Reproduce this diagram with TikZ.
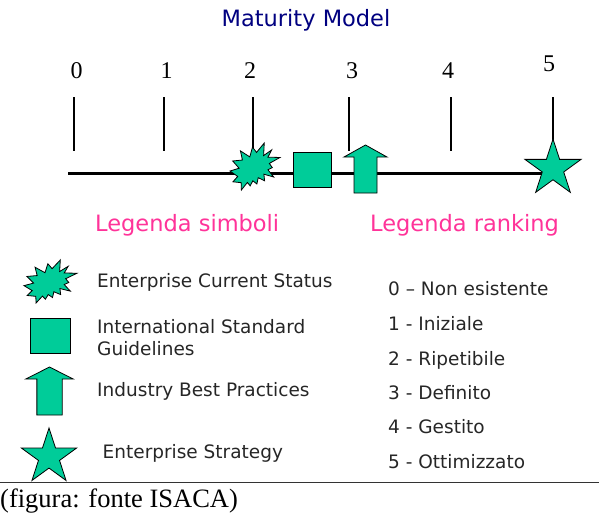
\documentclass[tikz,border=0pt]{standalone}
\usepackage{fontspec}
\setmainfont{Liberation Serif}
\newfontfamily\verd{DejaVu Sans}
\usetikzlibrary{shapes.geometric}
\definecolor{symgreen}{RGB}{0,204,153}
\definecolor{titleblue}{RGB}{0,0,128}
\definecolor{legpink}{RGB}{255,51,153}

\begin{document}
\begin{tikzpicture}[x=1pt,y=-1pt,
  sym/.style={draw=black, line width=0.8pt, fill=symgreen, line join=miter},
  heading/.style={font=\verd\fontsize{22.5}{27}\selectfont, inner sep=0pt, anchor=base},
  body/.style={font=\verd\fontsize{18.5}{22}\selectfont, inner sep=0pt, anchor=base west, text=black!85},
  digit/.style={font=\fontsize{24}{28}\selectfont, inner sep=0pt, anchor=base},
  tickline/.style={line width=2pt},
  % explosion outline on a 216 x 216 grid, centred on the pic origin
  burst/.pic={
    \draw[sym, shift={(-108,-108)}]
      (114.62,43.42) -- (147.90,0) -- (145.25,57.77) -- (180.07,31.72)
      -- (163.80,65.32) -- (216,66.45) -- (169.85,94.02) -- (182.70,112.90)
      -- (163.80,123.10) -- (188.77,156.32) -- (146.40,143.50) -- (149.42,173.70)
      -- (121.80,159.35) -- (116.12,188.42) -- (98.72,173.70) -- (87.00,197.12)
      -- (75.27,181.25) -- (49.17,216) -- (48.05,182.40) -- (12.85,178.25)
      -- (33.30,153.70) -- (0,128.77) -- (39.35,115.92) -- (11.72,82.70)
      -- (53.72,78.17) -- (45.02,36.25) -- (85.50,63.82) -- (97.22,18.87) -- cycle;
  },
  uparrow/.pic={
    \draw[sym] (-11.5,24) -- (-11.5,-12) -- (-21.5,-12) -- (0,-24)
      -- (21.5,-12) -- (11.5,-12) -- (11.5,24) -- cycle;
  }
]
\useasboundingbox (0,0) rectangle (599,514);

% title
\node[heading, text=titleblue] (title) at (306,27) {Maturity Model};

% scale labels
\node[digit] (d0) at (76.5,78) {0};
\node[digit] (d1) at (166.5,78) {1};
\node[digit] (d2) at (250,78) {2};
\node[digit] (d3) at (352,78) {3};
\node[digit] (d4) at (448,78) {4};
\node[digit] (d5) at (549,71) {5};

% tick marks and main axis
\coordinate (t0a) at (74,97);  \coordinate (t0b) at (74,151);
\coordinate (t1a) at (164,97); \coordinate (t1b) at (164,151);
\coordinate (t2a) at (253,97); \coordinate (t2b) at (253,151);
\coordinate (t3a) at (349,97); \coordinate (t3b) at (349,151);
\coordinate (t4a) at (451,97); \coordinate (t4b) at (451,151);
\coordinate (t5a) at (553,97);
\coordinate (c5) at (553,168.5);
\coordinate (axisL) at (68,173);
\coordinate (axisR) at (553,173);
\foreach \i in {0,...,4} \draw[tickline] (t\i a) -- (t\i b);
\draw[tickline] (t5a) -- (c5);
\draw[line width=3pt] (axisL) -- (axisR);

% symbols on the axis
\pic[xscale=0.2315, yscale=0.2176] (ecs) at (255,166.5) {burst};
\node[sym, rectangle, minimum width=38pt, minimum height=35pt, inner sep=0pt] (isg) at (312,169.5) {};
\pic (ibp) at (365.5,169) {uparrow};
\node[sym, star, star points=5, star point ratio=2.618, minimum size=59pt, inner sep=0pt] (strat) at (c5) {};

% legend headings
\node[heading, anchor=base west, text=legpink] (legsym) at (95,231.5) {Legenda simboli};
\node[heading, anchor=base west, text=legpink] (legrank) at (370,231.5) {Legenda ranking};

% symbol legend
\pic[xscale=0.2454, yscale=0.1991] (lecs) at (50.5,281.5) {burst};
\node[sym, rectangle, minimum width=40pt, minimum height=35pt, inner sep=0pt] (lisg) at (50,335.5) {};
\pic[xscale=1.1] (libp) at (49.5,391) {uparrow};
\node[sym, star, star points=5, star point ratio=2.618, minimum size=58pt, inner sep=0pt] (lstrat) at (49,457) {};

\node[body] (txecs) at (97,287) {Enterprise Current Status};
\node[body] (txisg1) at (97,333) {International Standard};
\node[body] (txisg2) at (97,355) {Guidelines};
\node[body] (txibp) at (97,396) {Industry Best Practices};
\node[body] (txstr) at (102.5,458) {Enterprise Strategy};

% ranking legend
\node[body] (r0) at (388,295) {0 – Non esistente};
\node[body] (r1) at (388,330) {1 - Iniziale};
\node[body] (r2) at (388,365) {2 - Ripetibile};
\node[body] (r3) at (388,399) {3 - Definito};
\node[body] (r4) at (388,433) {4 - Gestito};
\node[body] (r5) at (388,468) {5 - Ottimizzato};

% caption
\coordinate (ruleL) at (0,482.7);
\coordinate (ruleR) at (599,482.7);
\draw[line width=1pt, black!80] (ruleL) -- (ruleR);
\node[font=\fontsize{26.5}{30}\selectfont, anchor=base west, inner sep=0pt] (cap) at (0,507) {(figura: fonte ISACA)};
\end{tikzpicture}
\end{document}
